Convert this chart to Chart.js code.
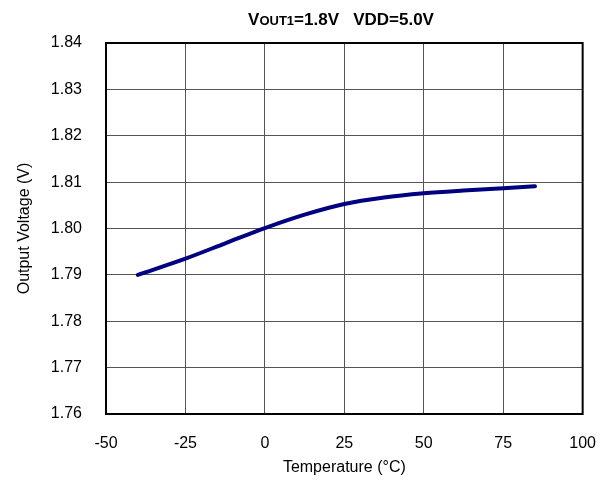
<!DOCTYPE html>
<html><head><meta charset="utf-8">
<script src="https://cdn.jsdelivr.net/npm/chart.js@4.4.1/dist/chart.umd.min.js"></script>
<style>html,body{margin:0;padding:0;background:#fff;}#wrap{width:616px;height:483px;}</style>
</head><body><div id="wrap"><canvas id="c" width="616" height="483"></canvas></div>
<script>
const temperatures = [-40, -25, -12.5, 0, 12.5, 25, 37.5, 50, 62.5, 75, 85];
const outputVoltage = [1.7900, 1.7935, 1.7968, 1.8001, 1.8030, 1.8053, 1.8067, 1.8076, 1.8082, 1.8087, 1.8091];
const xTicks = [-50, -25, 0, 25, 50, 75, 100];
const yTicks = [1.76, 1.77, 1.78, 1.79, 1.80, 1.81, 1.82, 1.83, 1.84];

const FONT = "'Liberation Sans', Arial, sans-serif";

const titlePlugin = {
  id: 'titlePlugin',
  afterDraw(chart) {
    const ctx = chart.ctx;
    const parts = [
      ['V', 17], ['OUT1', 13], ['=1.8V   VDD=5.0V', 17]
    ];
    ctx.save();
    ctx.fillStyle = '#000';
    ctx.textBaseline = 'alphabetic';
    let total = 0;
    parts.forEach(p => { ctx.font = 'bold ' + p[1] + 'px ' + FONT; total += ctx.measureText(p[0]).width; });
    let x = 341 - total / 2;
    const y = 25;
    parts.forEach(p => { ctx.font = 'bold ' + p[1] + 'px ' + FONT; ctx.fillText(p[0], x, y); x += ctx.measureText(p[0]).width; });
    ctx.restore();
  }
};

const borderPlugin = {
  id: 'borderPlugin',
  afterDatasetsDraw(chart) {
    const a = chart.chartArea, ctx = chart.ctx;
    ctx.save();
    ctx.strokeStyle = '#000';
    ctx.lineWidth = 2;
    ctx.strokeRect(a.left, a.top, a.right - a.left, a.bottom - a.top);
    ctx.restore();
  }
};

new Chart(document.getElementById('c'), {
  type: 'scatter',
  data: {
    datasets: [{
      data: temperatures.map((t, i) => ({x: t, y: outputVoltage[i]})),
      showLine: true,
      borderColor: '#000080',
      borderWidth: 4,
      pointRadius: 0,
      cubicInterpolationMode: 'monotone',
      borderCapStyle: 'round'
    }]
  },
  options: {
    responsive: false,
    animation: false,
    events: [],
    layout: { padding: { top: 43, right: 31, bottom: 0, left: 0 } },
    plugins: { legend: { display: false }, tooltip: { enabled: false } },
    scales: {
      x: {
        type: 'linear', min: -50, max: 100,
        afterBuildTicks: s => { s.ticks = xTicks.map(v => ({value: v})); },
        afterFit: s => { s.height = 69; },
        grid: { color: '#555', lineWidth: 1, drawTicks: false },
        border: { display: false },
        ticks: { color: '#000', font: { family: FONT, size: 16 }, padding: 20, maxRotation: 0 },
        title: { display: true, text: 'Temperature (°C)', color: '#000', font: { family: FONT, size: 16 }, padding: { top: 0, bottom: 6 } }
      },
      y: {
        type: 'linear', min: 1.76, max: 1.84,
        afterBuildTicks: s => { s.ticks = yTicks.map(v => ({value: v})); },
        afterFit: s => { s.width = 106; },
        grid: { color: '#555', lineWidth: 1, drawTicks: false },
        border: { display: false },
        ticks: { color: '#000', font: { family: FONT, size: 16 }, padding: 24, callback: v => v.toFixed(2) },
        title: { display: true, text: 'Output Voltage (V)', color: '#000', font: { family: FONT, size: 16 }, padding: { top: 15, bottom: 0 } }
      }
    }
  },
  plugins: [titlePlugin, borderPlugin]
});
</script></body></html>
